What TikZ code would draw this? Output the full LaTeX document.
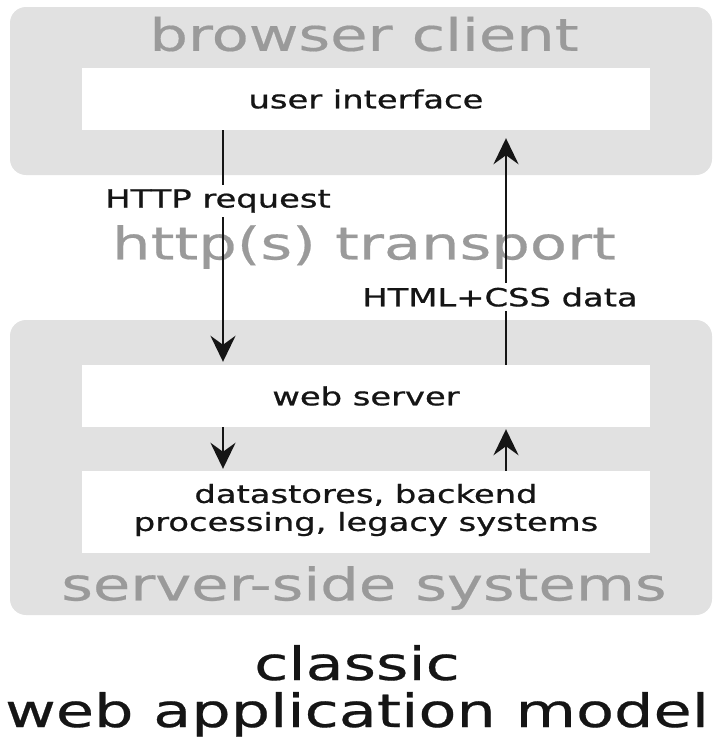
\documentclass[tikz,border=0pt]{standalone}
\usepackage{fontspec}
\setmainfont{DejaVu Sans}
\usetikzlibrary{arrows.meta}
\definecolor{boxgray}{HTML}{E1E1E1}
\definecolor{headgray}{HTML}{9A9A9A}
\definecolor{ink}{HTML}{151515}
\newcommand{\wide}[1]{\scalebox{1.35}[1]{#1}}
\tikzset{
  group/.style={fill=boxgray, rounded corners=16pt},
  wbox/.style={fill=white, draw=none, minimum width=568pt, inner sep=0pt, align=center},
  head/.style={text=headgray, font=\fontsize{45}{50}\selectfont\addfontfeature{FakeBold=0.4}, inner sep=0pt},
  lbl/.style={text=ink, font=\fontsize{25}{30}\selectfont\addfontfeature{FakeBold=0.7}, inner sep=0pt},
  conn/.style={draw=ink, line width=2.8pt, -{Stealth[length=26pt,width=25pt,inset=9pt]}},
  title/.style={text=ink, font=\fontsize{46}{52}\selectfont\addfontfeature{FakeBold=0.4}, inner sep=0pt, anchor=base}
}
\begin{document}
\begin{tikzpicture}[x=1pt,y=-1pt]
\useasboundingbox (0,0) rectangle (714,737);
% groups
\path[group] (10,7) rectangle (712,175);
\path[group] (10,320) rectangle (712,615);
\node[head] (bch) at (364,34) {\wide{browser client}};
\node[head] (tr) at (364,247) {\wide{http(s) transport}};
\node[head] (ssh) at (364,588) {\wide{server-side systems}};
% white boxes
\node[wbox, minimum height=62pt] (ui) at (366,99) {};
\node[lbl] (uit) at (366,99) {\wide{user interface}};
\node[wbox, minimum height=62pt] (ws) at (366,396) {};
\node[lbl] (wst) at (366,396) {\wide{web server}};
\node[wbox, minimum height=82pt] (ds) at (366,512) {};
\node[lbl, align=center] (dst) at (366,510) {\wide{datastores, backend}\\[-2pt]\wide{processing, legacy systems}};
% connectors
\draw[conn] ([xshift=-143pt]ui.south) -- ([xshift=-143pt,yshift=3pt]ws.north);
\draw[conn] ([xshift=140pt]ws.north) -- ([xshift=140pt,yshift=-8pt]ui.south);
\node[lbl, fill=white, inner sep=4pt] (req) at (218,201) {\wide{HTTP request}};
\node[lbl, fill=white, inner sep=4pt] (resp) at (500,297) {\wide{HTML+CSS data}};
\draw[conn] ([xshift=-143pt]ws.south) -- ([xshift=-143pt,yshift=2pt]ds.north);
\draw[conn] ([xshift=140pt]ds.north) -- ([xshift=140pt,yshift=-2pt]ws.south);
% title
\node[title] (t1) at (357,680) {\wide{classic}};
\node[title] (t2) at (357,727) {\wide{web application model}};
\end{tikzpicture}
\end{document}
